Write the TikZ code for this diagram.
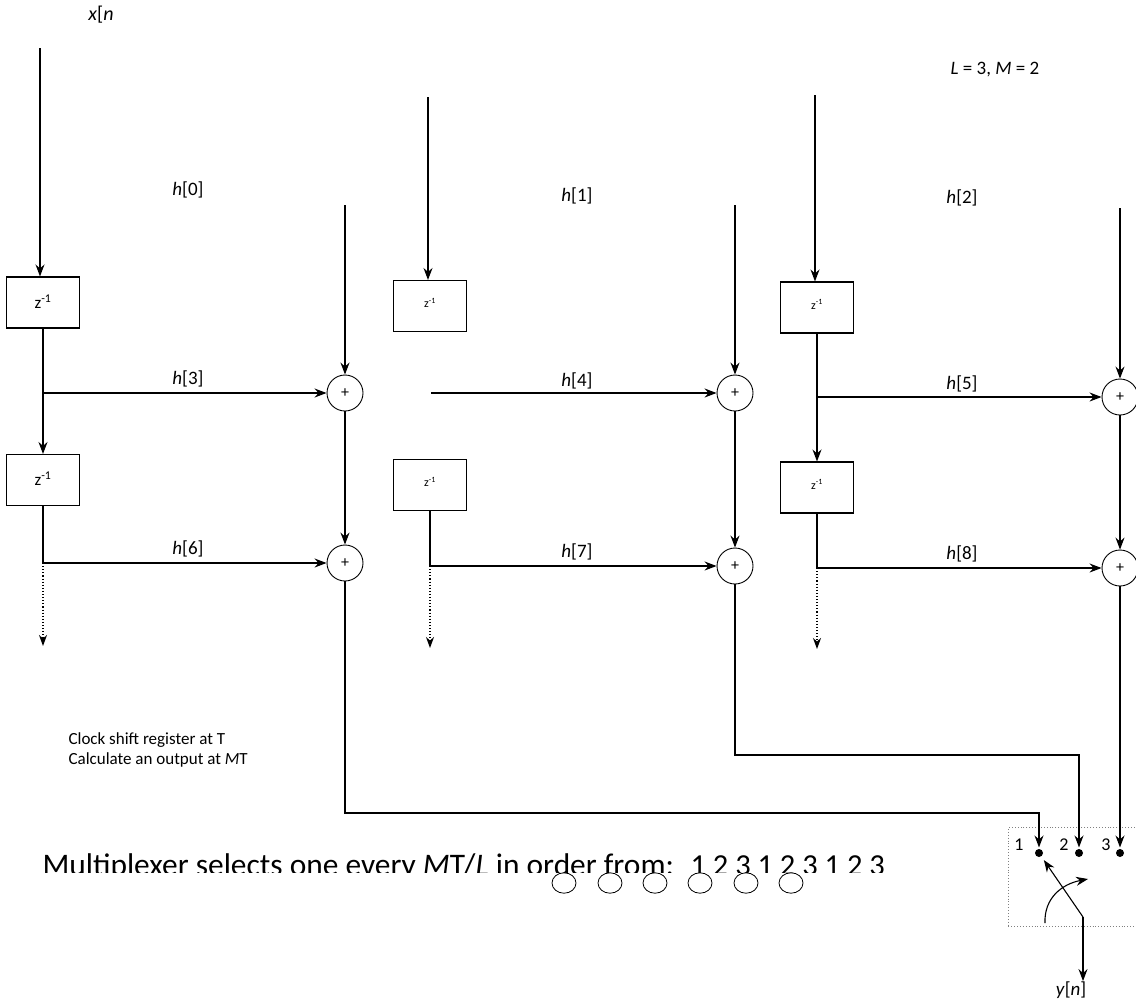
\documentclass[tikz,border=0pt]{standalone}
\usepackage{fontspec}
\setmainfont{Carlito}
\usetikzlibrary{arrows.meta}
\begin{document}
\begin{tikzpicture}[x=1pt,y=-1pt,
  line width=1.1pt,
  arr/.style={-{Stealth[length=12pt,width=9pt,inset=4pt]}},
  dotarr/.style={dotted,-{Stealth[length=11pt,width=8pt,inset=3.5pt]}},
  delaybox/.style={draw, minimum width=73pt, minimum height=51pt, inner sep=0pt},
  bigz/.style={font=\fontsize{17}{19}\selectfont},
  smallz/.style={font=\fontsize{12}{14}\selectfont},
  sumnode/.style={draw, circle, minimum size=36pt, inner sep=0pt, line width=0.9pt, font=\fontsize{16}{18}\selectfont},
  lbl/.style={font=\fontsize{19}{22}\selectfont, inner sep=0pt},
  pinnode/.style={circle, fill, inner sep=0pt, minimum size=8pt},
  numlbl/.style={font=\fontsize{18}{20}\selectfont, inner sep=0pt}
]
\clip (0,0) rectangle (1136,999);

% labels
\node[lbl, font=\fontsize{20}{22}\selectfont] (xn) at (101,15) {\textit{x}[\textit{n}};
\node[lbl] (LM) at (995,70) {\textit{L} = 3, \textit{M} = 2};
\node[lbl] (h0) at (188,190) {\textit{h}[0]};
\node[lbl] (h1) at (577,196) {\textit{h}[1]};
\node[lbl] (h2) at (962,198) {\textit{h}[2]};
\node[lbl] (h3) at (188,379) {\textit{h}[3]};
\node[lbl] (h4) at (577,381) {\textit{h}[4]};
\node[lbl] (h5) at (962,384) {\textit{h}[5]};
\node[lbl] (h6) at (188,549) {\textit{h}[6]};
\node[lbl] (h7) at (577,552) {\textit{h}[7]};
\node[lbl] (h8) at (962,554) {\textit{h}[8]};

% delay boxes
\node[delaybox, bigz] (d11) at (43,302.5) {\raisebox{2pt}{z\textsuperscript{-1}}};
\node[delaybox, bigz] (d12) at (43,480) {\raisebox{2pt}{z\textsuperscript{-1}}};
\node[delaybox, smallz] (d21) at (430,306) {\raisebox{6pt}{z\textsuperscript{-1}}};
\node[delaybox, smallz] (d22) at (430,485) {\raisebox{6pt}{z\textsuperscript{-1}}};
\node[delaybox, smallz] (d31) at (817,307.5) {\raisebox{6pt}{z\textsuperscript{-1}}};
\node[delaybox, smallz] (d32) at (817,487.5) {\raisebox{6pt}{z\textsuperscript{-1}}};

% adders
\node[sumnode] (a1) at (345,393) {+};
\node[sumnode] (a2) at (735,393) {+};
\node[sumnode] (a3) at (1120,397) {+};
\node[sumnode] (b1) at (345,563) {+};
\node[sumnode] (b2) at (735,566) {+};
\node[sumnode] (b3) at (1120,568) {+};

% free ends
\coordinate (in1) at (40,48);
\coordinate (in2) at (428,97);
\coordinate (in3) at (815,95);
\coordinate (s1) at (345,205);
\coordinate (s2) at (735,205);
\coordinate (s3) at (1120,208);
\coordinate (k1) at (43,393);
\coordinate (k2) at (43,563);
\coordinate (k3) at (431,393);
\coordinate (k4) at (430,566);
\coordinate (k5) at (817,397);
\coordinate (k6) at (817,568);
\coordinate (e1) at (43,646);
\coordinate (e2) at (430,648);
\coordinate (e3) at (817,649);

% inputs
\draw[arr] (in1) -- (in1 |- d11.north);
\draw[arr] (in2) -- (in2 |- d21.north);
\draw[arr] (in3) -- (in3 |- d31.north);
\draw[arr] (s1) -- (a1.north);
\draw[arr] (s2) -- (a2.north);
\draw[arr] (s3) -- (a3.north);

% column 1
\draw[arr] (d11.south) -- (d12.north);
\draw[arr] (k1) -- (a1.west);
\draw (d12.south) -- (k2);
\draw[arr] (k2) -- (b1.west);
\draw[dotarr] (k2) -- (e1);

% column 2
\draw[arr] (k3) -- (a2.west);
\draw (d22.south) -- (k4);
\draw[arr] (k4) -- (b2.west);
\draw[dotarr] (k4) -- (e2);

% column 3
\draw[arr] (d31.south) -- (d32.north);
\draw[arr] (k5) -- (a3.west);
\draw (d32.south) -- (k6);
\draw[arr] (k6) -- (b3.west);
\draw[dotarr] (k6) -- (e3);

% adder chains
\draw[arr] (a1.south) -- (b1.north);
\draw[arr] (a2.south) -- (b2.north);
\draw[arr] (a3.south) -- (b3.north);

% multiplexer
\node[draw, dotted, gray, line width=0.9pt, anchor=north west, minimum width=160pt, minimum height=99pt, inner sep=0pt] (mux) at (1008,827) {};
\node[pinnode] (p1) at (1039,853) {};
\node[pinnode] (p2) at (1079,853) {};
\node[pinnode] (p3) at (1120,853) {};
\node[numlbl] (n1) at (1019,845) {1};
\node[numlbl] (n2) at (1064,845) {2};
\node[numlbl] (n3) at (1106,845) {3};

\draw[arr, shorten >=1pt] (b1.south) |- (1039,813) -- (p1.north);
\draw[arr, shorten >=1pt] (b2.south) |- (1079,755) -- (p2.north);
\draw[arr, shorten >=1pt] (b3.south) -- (p3.north);

\coordinate (piv) at (1083,917);
\node[lbl] (yn) at (1071,990) {\textit{y}[\textit{n}]};
\draw[arr, shorten >=4pt] (piv) -- (p1);
\draw[arr] (piv) -- (piv |- yn.north);
\draw[arr] (1045,923) .. controls (1044,898) and (1062,884) .. (1088,879);

% notes
\node[anchor=west, align=left, inner sep=0pt, font=\fontsize{17}{20}\selectfont] (clk) at (68,750)
  {Clock shift register at T\\Calculate an output at \textit{M}T};

\begin{scope}
  \clip (0,820) rectangle (1000,872);
  \node[anchor=base west, inner sep=0pt, font=\fontsize{31.4}{34}\selectfont] (mtext) at (42,875)
    {Multiplexer selects one every \textit{M}T/\textit{L} in order from:};
  \node[anchor=base west, inner sep=0pt, font=\fontsize{30.5}{34}\selectfont] (seq) at (690,875)
    {1 2 3 1 2 3 1 2 3};
\end{scope}

\foreach \cx/\nm in {564/c1,610/c2,655/c3,700/c4,746/c5,791/c6}{
  \node[draw, circle, line width=0.8pt, minimum size=24pt, inner sep=0pt, yscale=0.85] (\nm) at (\cx,883) {};
}
\end{tikzpicture}
\end{document}
